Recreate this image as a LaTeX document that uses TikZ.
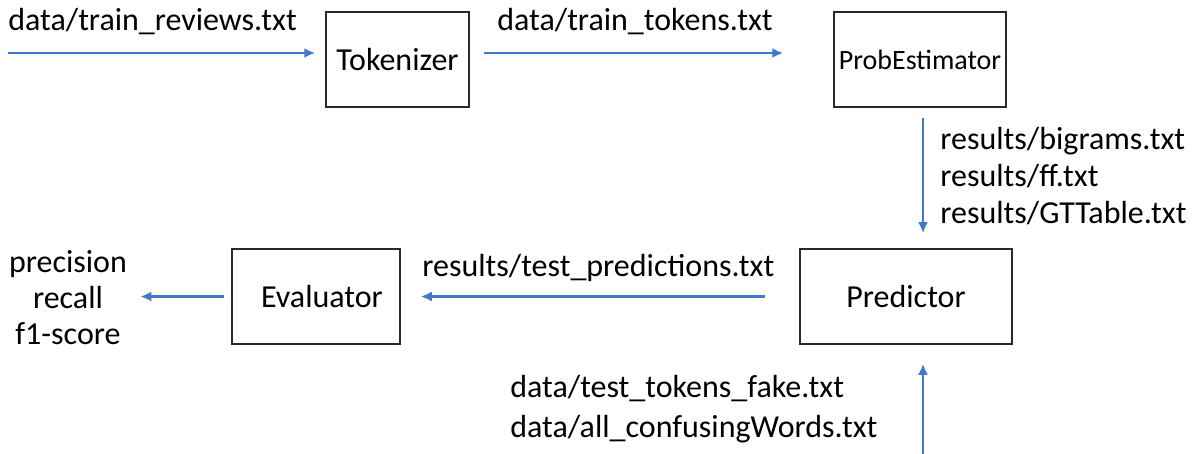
\documentclass[tikz,border=0pt]{standalone}
\usepackage{fontspec}
\setmainfont{Carlito}
\usetikzlibrary{arrows.meta}
\definecolor{flowblue}{RGB}{66,120,200}
\definecolor{boxgray}{RGB}{40,40,40}
\tikzset{
  module/.style={draw=boxgray, line width=0.75pt, minimum height=47.5pt, inner sep=0pt, font=\fontsize{16}{19}\selectfont},
  flow/.style={->, draw=flowblue, line width=1.2pt},
  lbl/.style={anchor=base west, inner sep=0pt, font=\fontsize{16}{19}\selectfont}
}
\begin{document}
\begin{tikzpicture}[>={Latex[length=5.5pt,width=5pt]}, x=0.5pt, y=-0.5pt]
\useasboundingbox (0,0) rectangle (1198,454);

% modules
\node[module, minimum width=71.5pt] (tok) at (397.5,59.5) {Tokenizer};
\node[module, minimum width=86pt, font=\fontsize{14}{17}\selectfont] (prob) at (920,59.5) {ProbEstimator};
\node[module, minimum width=106pt] (pred) at (906,296.5) {Predictor};
\node[module, minimum width=84pt] (eval) at (316,296.5) {\hspace{6pt}Evaluator};
\node[align=center, inner sep=0pt, font=\fontsize{16}{18}\selectfont] (scores) at (68,298) {precision\\recall\\f1-score};

\coordinate (reviews) at (8,53);
\coordinate (testin) at (923,454);

% connectors
\draw[flow] (reviews) -- (reviews -| tok.west) [shorten >=5pt];
\draw[flow, shorten <=7pt, shorten >=25pt] (tok.east |- reviews) -- (prob.west |- reviews);
\draw[flow, shorten <=5pt, shorten >=7.5pt] ([xshift=1.5pt]prob.south) -- ([xshift=1.5pt]prob.south |- pred.north);
\draw[flow, shorten <=17pt, shorten >=10pt] (pred.west) -- (eval.east);
\draw[flow, shorten <=3.5pt, shorten >=6.5pt] (eval.west) -- (eval.west -| scores.east);
\draw[flow, shorten >=9.5pt] (testin) -- (testin |- pred.south);

% file names
\node[lbl] (revtxt) at (8,31) {data/train\_reviews.txt};
\node[lbl] (toktxt) at (497,31) {data/train\_tokens.txt};
\foreach \f [count=\i] in {bigrams, ff, GTTable}
{
    \node[lbl] (res\i) at (940,{150+37*(\i-1)}) {results/\f.txt};
}
\node[lbl] (predtxt) at (422,276) {results/test\_predictions.txt};
\node[lbl] (fake) at (510,397) {data/test\_tokens\_fake.txt};
\node[lbl] (conf) at (510,437) {data/all\_confusingWords.txt};
\end{tikzpicture}
\end{document}
